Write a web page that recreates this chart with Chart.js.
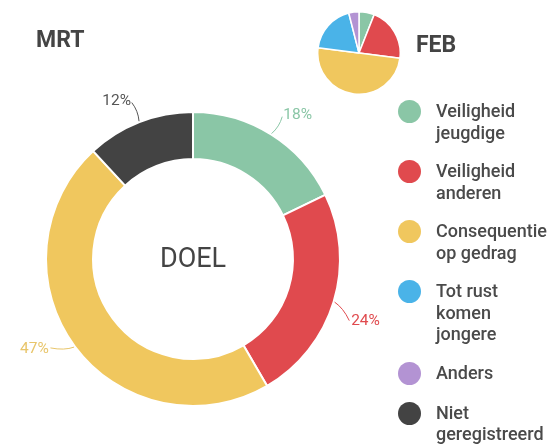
<!DOCTYPE html>
<html>
<head>
<meta charset="utf-8">
<script src="https://cdn.jsdelivr.net/npm/chart.js@4.4.1/dist/chart.umd.min.js"></script>
<style>
  html, body { margin: 0; padding: 0; background: #fff; }
  body { width: 553px; height: 445px; position: relative; overflow: hidden; font-family: Roboto, "Noto Sans", sans-serif; }
  canvas { position: absolute; }
  #mainChart { left: 0; top: 0; }
  #febChart { left: 317px; top: 11px; }
  .month { position: absolute; font-weight: 700; font-size: 23px; color: #444; line-height: 1; }
  #legend { position: absolute; left: 398px; top: 100px; display: flex; flex-direction: column; gap: 17px; }
  .item { display: flex; align-items: flex-start; }
  .dot { width: 23px; height: 23px; border-radius: 50%; margin-top: 0; flex: none; }
  .txt { margin-left: 15px; font-size: 18px; font-weight: 500; line-height: 21.5px; color: #4a4a4a; }
</style>
</head>
<body>
<canvas id="mainChart" width="553" height="445"></canvas>
<canvas id="febChart" width="84" height="84"></canvas>
<div class="month" style="left:36px; top:28px;">MRT</div>
<div class="month" style="left:416px; top:33px;">FEB</div>
<div id="legend"></div>
<script>
// categorieën (legenda, per regel)
const categories = [
  ['Veiligheid', 'jeugdige'],
  ['Veiligheid', 'anderen'],
  ['Consequentie', 'op gedrag'],
  ['Tot rust', 'komen', 'jongere'],
  ['Anders'],
  ['Niet', 'geregistreerd']
];
const colors = ['#8ac6a6', '#e04a4e', '#f0c75e', '#4ab3e8', '#b393d3', '#434343'];
const labelColors = ['#8ac6a6', '#e04a4e', '#e8c56a', '#4ab3e8', '#b393d3', '#555555'];

// waarden in procenten
const mrtValues = [18, 24, 47, 0, 0, 12];
const febValues = [6, 21, 50, 19, 4, 0];

const centerText = 'DOEL';

// legenda opbouwen
const legend = document.getElementById('legend');
categories.forEach((lines, i) => {
  const item = document.createElement('div');
  item.className = 'item';
  const dot = document.createElement('div');
  dot.className = 'dot';
  dot.style.background = colors[i];
  const txt = document.createElement('div');
  txt.className = 'txt';
  txt.innerHTML = lines.join('<br>');
  item.appendChild(dot);
  item.appendChild(txt);
  legend.appendChild(item);
});

// tekst in het midden + percentages buiten de ring
const doughnutLabels = {
  id: 'doughnutLabels',
  afterDatasetsDraw(chart) {
    const ctx = chart.ctx;
    const meta = chart.getDatasetMeta(0);
    ctx.save();
    meta.data.forEach((arc, i) => {
      const value = mrtValues[i];
      if (!value) return;
      const { x, y, startAngle, endAngle, outerRadius } = arc.getProps(['x', 'y', 'startAngle', 'endAngle', 'outerRadius'], true);
      const mid = (startAngle + endAngle) / 2;
      const cos = Math.cos(mid), sin = Math.sin(mid);
      // labels in de onderste helft schuiven iets met de klok mee
      const lab = sin > 0.2 ? mid + 0.08 : mid;
      const lc = Math.cos(lab), ls = Math.sin(lab);
      const right = lc >= 0;
      const r0 = outerRadius + 1, r1 = outerRadius + 21;
      const x0 = x + cos * r0, y0 = y + sin * r0;
      const x1 = x + lc * r1, y1 = y + ls * r1;
      const cx = x + cos * (outerRadius + 11) - sin * 3;
      const cy = y + sin * (outerRadius + 11) + cos * 3;
      ctx.strokeStyle = labelColors[i];
      ctx.lineWidth = 1;
      ctx.beginPath();
      ctx.moveTo(x0, y0);
      ctx.quadraticCurveTo(cx, cy, x1, y1);
      ctx.stroke();

      ctx.fillStyle = labelColors[i];
      ctx.font = '15.5px Roboto, sans-serif';
      ctx.textAlign = right ? 'left' : 'right';
      ctx.textBaseline = 'middle';
      const rt = outerRadius + 23;
      ctx.fillText(value + '%', x + lc * rt, y + ls * rt);
    });

    const first = meta.data[0];
    ctx.fillStyle = '#444';
    ctx.font = '27px Roboto, sans-serif';
    ctx.textAlign = 'center';
    ctx.textBaseline = 'middle';
    ctx.fillText(centerText, first.x, first.y + 1);
    ctx.restore();
  }
};

new Chart(document.getElementById('mainChart'), {
  type: 'doughnut',
  data: {
    labels: categories.map(l => l.join(' ')),
    datasets: [{
      data: mrtValues,
      backgroundColor: colors,
      borderColor: '#ffffff',
      borderWidth: 2
    }]
  },
  options: {
    responsive: false,
    animation: false,
    cutout: '68%',
    layout: { padding: { left: 45, top: 111, right: 212, bottom: 38 } },
    plugins: {
      legend: { display: false },
      tooltip: { enabled: false }
    }
  },
  plugins: [doughnutLabels]
});

new Chart(document.getElementById('febChart'), {
  type: 'pie',
  data: {
    labels: categories.map(l => l.join(' ')),
    datasets: [{
      data: febValues,
      backgroundColor: colors,
      borderColor: '#ffffff',
      borderWidth: 1.5
    }]
  },
  options: {
    responsive: false,
    animation: false,
    plugins: {
      legend: { display: false },
      tooltip: { enabled: false }
    }
  }
});
</script>
</body>
</html>
